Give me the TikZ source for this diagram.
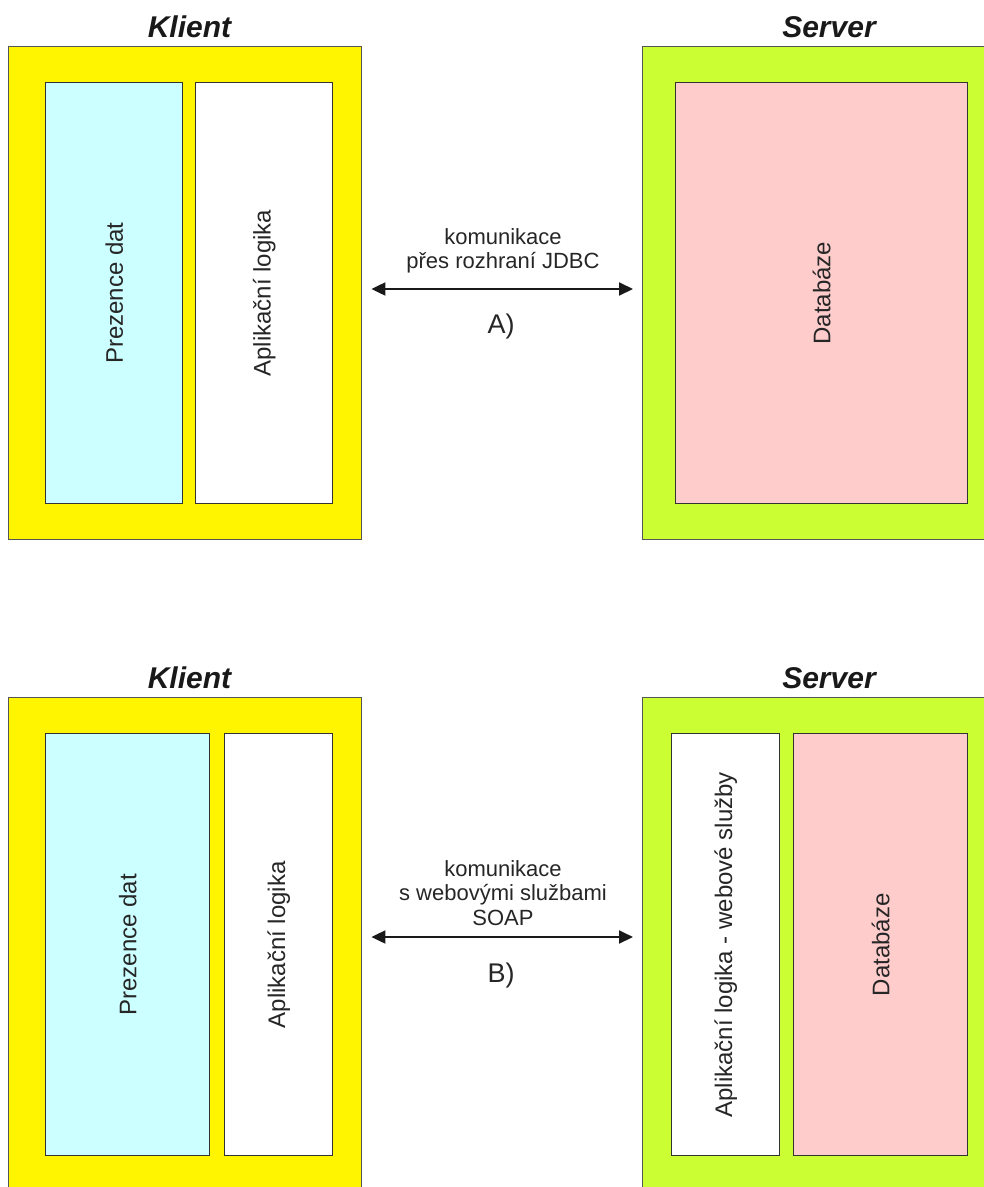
\documentclass[tikz,border=0pt]{standalone}
\usepackage{fontspec}
\setmainfont{Liberation Sans}
\usetikzlibrary{arrows.meta}
\definecolor{klientfill}{HTML}{FFF500}
\definecolor{serverfill}{HTML}{CCFF33}
\definecolor{presfill}{HTML}{CCFFFF}
\definecolor{dbfill}{HTML}{FFCCCC}
\definecolor{outerline}{HTML}{555555}
\definecolor{innerline}{HTML}{333333}
\tikzset{
  outerbox/.style={draw=outerline, line width=1.4pt, inner sep=0pt, anchor=north west},
  innerbox/.style={draw=innerline, line width=1.4pt, inner sep=0pt, anchor=north west},
  title/.style={font=\fontsize{30}{36}\selectfont\bfseries\itshape, anchor=base, inner sep=0pt, text=black!90},
  vlabel/.style={font=\fontsize{24}{28}\selectfont, rotate=90, inner sep=0pt, text=black!85},
  commtext/.style={font=\fontsize{22}{26}\selectfont, anchor=base, inner sep=0pt, text=black!85},
  variant/.style={font=\fontsize{27}{32}\selectfont, anchor=base, inner sep=0pt, text=black!85},
  link/.style={line width=2pt, black!90, {Triangle[length=14pt,width=13pt]}-{Triangle[length=14pt,width=13pt]}, shorten <=9pt, shorten >=9pt}
}
\begin{document}
\begin{tikzpicture}[x=1pt, y=-1pt]
\useasboundingbox (0,0) rectangle (984,1187);
\clip (0,0) rectangle (984,1187);

% ---- variant A: JDBC ----
\node[outerbox, fill=klientfill, minimum width=353pt, minimum height=493pt] (klientA) at (8,46) {};
\node[outerbox, fill=serverfill, minimum width=360pt, minimum height=493pt] (serverA) at (642,46) {};
\node[title] (klientAt) at (189.5,37) {Klient};
\node[title] (serverAt) at (829,37) {Server};

\node[innerbox, fill=presfill, minimum width=137pt, minimum height=421pt] (presA) at (45,82) {};
\node[innerbox, fill=white, minimum width=137pt, minimum height=421pt] (logA) at (195,82) {};
\node[innerbox, fill=dbfill, minimum width=292pt, minimum height=421pt] (dbA) at (675,82) {};
\node[vlabel] (presAl) at (presA.center) {Prezence dat};
\node[vlabel] (logAl) at (logA.center) {Aplikační logika};
\node[vlabel] (dbAl) at (dbA.center) {Databáze};

\coordinate (midA) at (501.5,289);
\draw[link] (klientA.east |- midA) -- (serverA.west |- midA);
\node[commtext] (commA1) at (503,244) {komunikace};
\node[commtext] (commA2) at (503,268) {přes rozhraní JDBC};
\node[variant] (varA) at (501,333) {A)};

% ---- variant B: SOAP web services ----
\node[outerbox, fill=klientfill, minimum width=353pt, minimum height=520pt] (klientB) at (8,697) {};
\node[outerbox, fill=serverfill, minimum width=360pt, minimum height=520pt] (serverB) at (642,697) {};
\node[title] (klientBt) at (189.5,688) {Klient};
\node[title] (serverBt) at (829,688) {Server};

\node[innerbox, fill=presfill, minimum width=164pt, minimum height=422pt] (presB) at (45,733) {};
\node[innerbox, fill=white, minimum width=108pt, minimum height=422pt] (logB) at (224,733) {};
\node[innerbox, fill=white, minimum width=108pt, minimum height=422pt] (wsB) at (671,733) {};
\node[innerbox, fill=dbfill, minimum width=174pt, minimum height=422pt] (dbB) at (793,733) {};
\node[vlabel] (presBl) at (presB.center) {Prezence dat};
\node[vlabel] (logBl) at (logB.center) {Aplikační logika};
\node[vlabel] (wsBl) at (wsB.center) {Aplikační logika - webové služby};
\node[vlabel] (dbBl) at (dbB.center) {Databáze};

\coordinate (midB) at (501.5,937);
\draw[link] (klientB.east |- midB) -- (serverB.west |- midB);
\node[commtext] (commB1) at (503,876) {komunikace};
\node[commtext] (commB2) at (503,900) {s webovými službami};
\node[commtext] (commB3) at (503,925) {SOAP};
\node[variant] (varB) at (501,982) {B)};
\end{tikzpicture}
\end{document}
